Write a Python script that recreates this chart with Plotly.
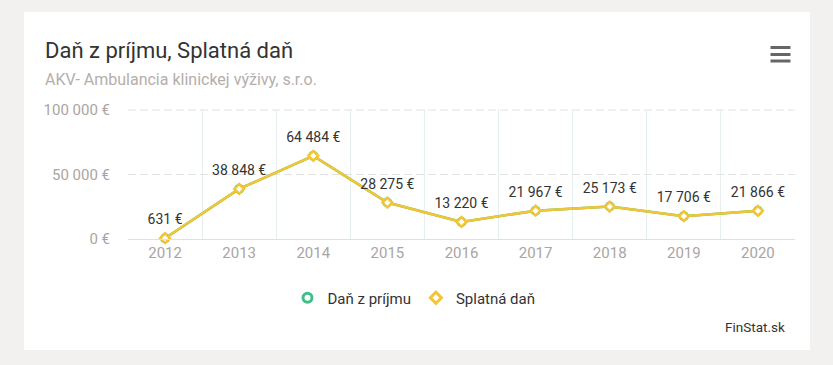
import plotly.graph_objects as go

years = ["2012", "2013", "2014", "2015", "2016", "2017", "2018", "2019", "2020"]
dan_z_prijmu = [631, 38848, 64484, 28275, 13220, 21967, 25173, 17706, 21866]
splatna_dan = [631, 38848, 64484, 28275, 13220, 21967, 25173, 17706, 21866]
y_tickvals = [0, 50000, 100000]
y_ticktext = ["0 €", "50 000 €", "100 000 €"]
y_max = 100775

def fmt(v):
    return f"{v:,}".replace(",", " ") + " €"

labels = [fmt(v) for v in splatna_dan]

# page has an 8px body margin; plot area given in window pixel coords
OFF = 8
W, H = 833 - OFF, 365 - OFF
L, R, T, B = 128, 795, 109, 239

def px(x):
    return (x - L) / (R - L)

def py(y):
    return (B - y) / (B - T)

GREEN = "#3dbf85"
YELLOW = "#f3c532"
GRID = "#e2e2e2"
FONT = "Roboto, 'Open Sans', sans-serif"

fig = go.Figure()
fig.add_trace(go.Scatter(
    x=years, y=dan_z_prijmu, name="Daň z príjmu", mode="lines+markers",
    line=dict(color=GREEN, width=2.5),
    marker=dict(symbol="circle", size=8, color="white", line=dict(color=GREEN, width=2)),
    cliponaxis=False, showlegend=False,
))
fig.add_trace(go.Scatter(
    x=years, y=splatna_dan, name="Splatná daň", mode="lines+markers",
    line=dict(color=YELLOW, width=2.5),
    marker=dict(symbol="diamond", size=7.5, color="white", line=dict(color=YELLOW, width=2.5)),
    cliponaxis=False, showlegend=False,
))
# data labels
fig.add_trace(go.Scatter(
    x=years, y=splatna_dan, mode="markers+text", showlegend=False, hoverinfo="skip",
    marker=dict(size=15, color="rgba(0,0,0,0)"),
    text=labels, textposition="top center",
    textfont=dict(family=FONT, size=14, color="#333333"),
    cliponaxis=False,
))
# legend entries (symbol only)
fig.add_trace(go.Scatter(
    x=[None], y=[None], name="Daň z príjmu", mode="markers",
    marker=dict(symbol="circle", size=9, color="white", line=dict(color=GREEN, width=3)),
))
fig.add_trace(go.Scatter(
    x=[None], y=[None], name="Splatná daň", mode="markers",
    marker=dict(symbol="diamond", size=8.5, color="white", line=dict(color=YELLOW, width=3)),
))

shapes = [
    dict(type="rect", xref="paper", yref="paper", x0=px(24), x1=px(810),
         y0=py(350), y1=py(12),
         fillcolor="white", line=dict(width=0), layer="below"),
    dict(type="line", xref="paper", yref="y", x0=0, x1=1,
         y0=y_tickvals[-1], y1=y_tickvals[-1],
         line=dict(color=GRID, width=1, dash="8px,4px"), layer="below"),
]
for yy in [47.5, 54.5, 61]:
    shapes.append(dict(type="line", xref="paper", yref="paper", x0=px(770.5), x1=px(790.5),
                       y0=py(yy), y1=py(yy), line=dict(color="#666666", width=3)))

annotations = [
    dict(text="Daň z príjmu, Splatná daň", xref="paper", yref="paper", x=px(43), y=py(50),
         xanchor="left", yanchor="middle", showarrow=False,
         font=dict(family=FONT, size=22, color="#333333")),
    dict(text="AKV- Ambulancia klinickej výživy, s.r.o.", xref="paper", yref="paper",
         x=px(43), y=py(80),
         xanchor="left", yanchor="middle", showarrow=False,
         font=dict(family=FONT, size=16, color="#b5aeab")),
    dict(text="FinStat.sk", xref="paper", yref="paper", x=px(787), y=py(327),
         xanchor="right", yanchor="middle", showarrow=False,
         font=dict(family=FONT, size=13.5, color="#333333")),
]

fig.update_layout(
    width=W, height=H,
    margin=dict(l=L - OFF, r=W - (R - OFF), t=T - OFF, b=H - (B - OFF)),
    paper_bgcolor="#f2f1ef",
    plot_bgcolor="rgba(0,0,0,0)",
    font=dict(family=FONT),
    showlegend=True,
    legend=dict(orientation="h", x=px(414), xanchor="center", y=py(298), yanchor="middle",
                font=dict(family=FONT, size=15, color="#333333"), bgcolor="rgba(0,0,0,0)",
                itemwidth=30, tracegroupgap=0),
    shapes=shapes,
    annotations=annotations,
    xaxis=dict(type="category", tickson="boundaries", showgrid=True, gridcolor="#e6eef0",
               gridwidth=1, showline=True, linecolor="#e0e0e0", linewidth=1,
               ticks="outside", ticklen=14, tickcolor="rgba(0,0,0,0)",
               tickfont=dict(family=FONT, size=15, color="#aaa5a2"),
               range=[-0.5, 8.5], fixedrange=True),
    yaxis=dict(range=[0, y_max], tickvals=y_tickvals, ticktext=y_ticktext,
               showgrid=True, gridcolor=GRID, griddash="8px,4px", gridwidth=1,
               zeroline=False, ticks="outside", ticklen=14, tickcolor="rgba(0,0,0,0)",
               tickfont=dict(family=FONT, size=15, color="#aaa5a2"), fixedrange=True),
)

fig.write_html("out.html", post_script="document.body.style.background='#f2f1ef';")
